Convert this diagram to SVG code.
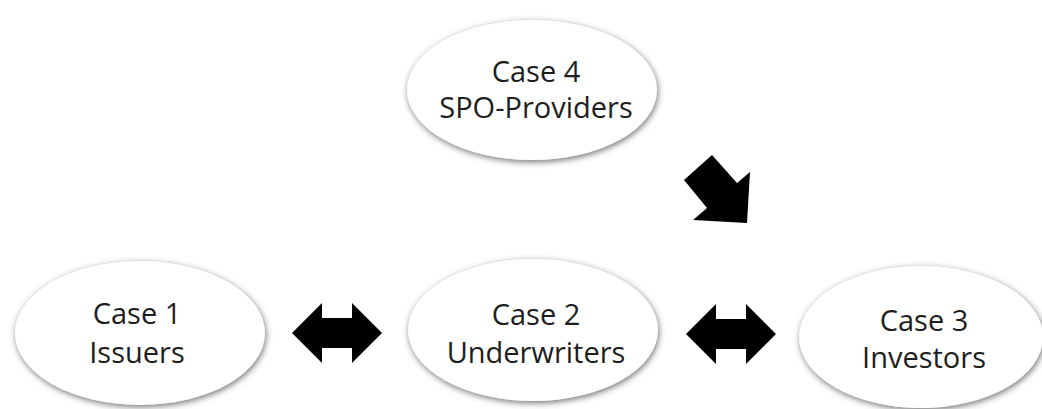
<svg xmlns="http://www.w3.org/2000/svg" width="1042" height="409" viewBox="0 0 1042 409">
  <defs>
    <filter id="soft-shadow" x="-20%" y="-20%" width="140%" height="140%">
      <feDropShadow dx="1" dy="2" stdDeviation="3" flood-color="#444" flood-opacity="0.75"/>
    </filter>
  </defs>
  <style>
    .case { fill: #ffffff; filter: url(#soft-shadow); }
    .label { font-family: "Open Sans", "Noto Sans", sans-serif; font-size: 29px; fill: #1e1e1e; text-anchor: middle; }
    .arrow { fill: #000000; }
  </style>
  <rect width="1042" height="409" fill="#ffffff"/>

  <g id="case4">
    <ellipse class="case" cx="532" cy="90" rx="125" ry="70"/>
    <text class="label" x="536" y="82">Case 4</text>
    <text class="label" x="536" y="118">SPO-Providers</text>
  </g>

  <g id="case1">
    <ellipse class="case" cx="140" cy="333" rx="125" ry="72"/>
    <text class="label" x="137" y="324">Case 1</text>
    <text class="label" x="137" y="363">Issuers</text>
  </g>

  <g id="case2">
    <ellipse class="case" cx="533" cy="330" rx="125" ry="71"/>
    <text class="label" x="536" y="325">Case 2</text>
    <text class="label" x="536" y="363">Underwriters</text>
  </g>

  <g id="case3">
    <ellipse class="case" cx="921" cy="337" rx="122" ry="71"/>
    <text class="label" x="924" y="331">Case 3</text>
    <text class="label" x="924" y="368">Investors</text>
  </g>

  <g id="connectors">
    <!-- Issuers <-> Underwriters -->
    <polygon class="arrow" points="292,333 322,303 322,318 352,318 352,303 382,333 352,363 352,348 322,348 322,363"/>
    <!-- Underwriters <-> Investors -->
    <polygon class="arrow" points="686,334 716,304 716,319 746,319 746,304 776,334 746,364 746,349 716,349 716,364"/>
    <!-- SPO-Providers -> Investors -->
    <polygon class="arrow" points="712,155 737,183 750,172 747,223 693,220 707,208 684,180"/>
  </g>
</svg>
